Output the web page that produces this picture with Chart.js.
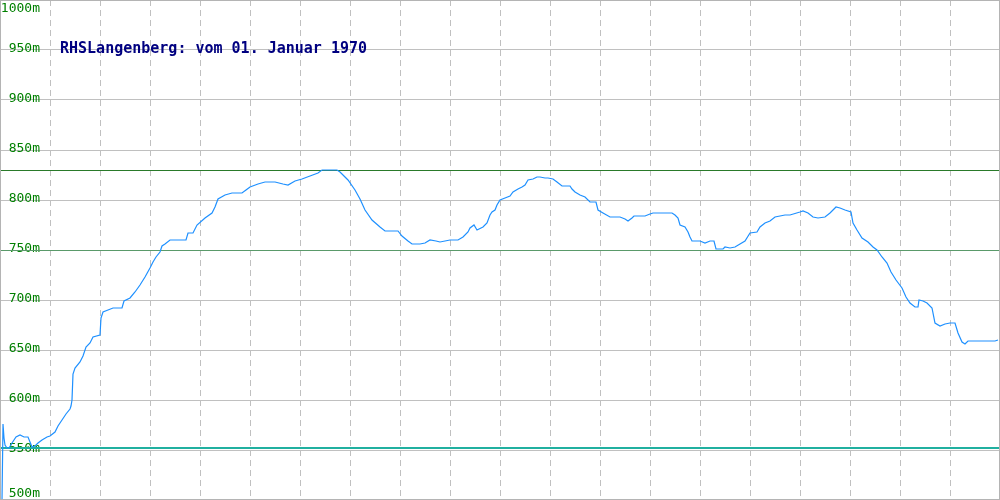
<!DOCTYPE html>
<html>
<head>
<meta charset="utf-8">
<script src="https://cdn.jsdelivr.net/npm/chart.js@4"></script>
<style>
  body { margin: 0; background: #fff; }
  #wrap { width: 1000px; height: 500px; }
</style>
</head>
<body>
<div id="wrap"><canvas id="profile" width="1000" height="500"></canvas></div>
<script>
const title = "RHSLangenberg: vom 01. Januar 1970";

// horizontal position along the track and elevation in metres
const dist = [2, 3, 4, 5, 7, 9, 12, 16, 20, 24, 28, 30, 32, 35, 38, 42, 47, 50, 55, 58,
  62, 66, 70, 71, 72, 73, 75, 80, 83, 86, 90, 93, 100, 101, 103, 108, 113, 122, 124, 130,
  135, 140, 145, 150, 153, 156, 160, 162, 165, 170, 186, 188, 193, 197, 205, 212, 215, 218, 225, 232,
  242, 246, 250, 258, 265, 275, 283, 288, 295, 302, 310, 318, 322, 337, 340, 348, 355, 360, 365, 372,
  380, 385, 398, 402, 408, 412, 420, 425, 430, 436, 440, 445, 450, 458, 463, 468, 470, 474, 477, 483,
  487, 490, 492, 495, 497, 500, 505, 510, 513, 518, 522, 525, 528, 533, 537, 540, 545, 548, 553, 557,
  562, 570, 572, 575, 580, 585, 590, 596, 598, 603, 610, 620, 625, 628, 632, 634, 645, 650, 653, 672,
  675, 678, 680, 685, 688, 690, 692, 700, 705, 710, 714, 716, 723, 725, 730, 735, 740, 745, 750, 757,
  760, 765, 770, 775, 785, 790, 800, 803, 808, 813, 818, 825, 830, 836, 840, 845, 851, 853, 857, 862,
  868, 873, 877, 882, 887, 891, 896, 902, 906, 910, 915, 918, 919, 923, 927, 932, 935, 940, 945, 950,
  955, 958, 962, 965, 968, 995, 998];
const elevation = [500, 576, 562, 555, 552, 552, 557, 563, 565, 563, 563, 558, 553, 554, 557, 560, 563, 564, 568, 574,
  580, 586, 591, 594, 600, 626, 632, 638, 644, 653, 657, 663, 665, 682, 688, 690, 692, 692, 699, 702,
  708, 715, 723, 732, 738, 743, 748, 754, 756, 760, 760, 767, 767, 775, 782, 787, 793, 801, 805, 807,
  807, 810, 813, 816, 818, 818, 816, 815, 819, 821, 824, 827, 830, 830, 828, 820, 810, 801, 790, 780,
  773, 769, 769, 764, 759, 756, 756, 757, 760, 759, 758, 759, 760, 760, 763, 768, 772, 775, 770, 773,
  777, 785, 788, 790, 795, 800, 802, 804, 808, 811, 813, 815, 820, 821, 823, 823, 822, 822, 821, 818,
  814, 814, 811, 808, 805, 803, 798, 798, 790, 787, 783, 783, 781, 779, 782, 784, 784, 786, 787, 787,
  785, 782, 775, 773, 768, 763, 759, 759, 757, 759, 759, 751, 751, 753, 752, 753, 756, 759, 767, 768,
  773, 777, 779, 783, 785, 785, 788, 789, 787, 783, 782, 783, 787, 793, 792, 790, 788, 777, 770, 762,
  758, 753, 750, 743, 737, 728, 720, 712, 703, 697, 693, 693, 700, 699, 697, 692, 677, 674, 676, 677,
  677, 667, 658, 656, 659, 659, 660];

// reference levels
const upperLevel = 829.5;
const middleLevel = 749.5;
const lowerLevel = 552;

const yTicks = [500, 550, 600, 650, 700, 750, 800, 850, 900, 950, 1000];

const profilePoints = dist.map((d, i) => ({ x: d, y: elevation[i] }));

function flatLine(level) {
    return [{ x: 0, y: level }, { x: 1000, y: level }];
}

// labels sit inside the plot, right aligned, like the original
const insideLabels = {
    id: "insideLabels",
    beforeDatasetsDraw(chart) {
        const ctx = chart.ctx;
        const y = chart.scales.y;
        ctx.save();
        ctx.font = "13px 'DejaVu Sans Mono'";
        ctx.fillStyle = "#008000";
        ctx.textAlign = "right";
        ctx.textBaseline = "middle";
        yTicks.forEach(v => {
            let py = y.getPixelForValue(v) - 1;
            py = Math.min(Math.max(py, 8.5), 493.5);
            ctx.fillText(v + "m", 40, py);
        });
        ctx.font = "bold 15px 'DejaVu Sans Mono'";
        ctx.fillStyle = "#000080";
        ctx.textAlign = "left";
        ctx.textBaseline = "alphabetic";
        ctx.fillText(title, 60, 53);
        ctx.restore();
    },
    afterDraw(chart) {
        const ctx = chart.ctx;
        ctx.save();
        ctx.strokeStyle = "#b4b4b4";
        ctx.lineWidth = 1;
        ctx.strokeRect(0.5, 0.5, 999, 499);
        ctx.restore();
    }
};

new Chart(document.getElementById("profile"), {
    type: "line",
    data: {
        datasets: [
            {
                data: profilePoints,
                borderColor: "#1e90ff",
                borderWidth: 1.2,
                pointRadius: 0,
                tension: 0
            },
            {
                data: flatLine(upperLevel),
                borderColor: "#2a7a2a",
                borderWidth: 1,
                pointRadius: 0
            },
            {
                data: flatLine(middleLevel),
                borderColor: "#5a9a6a",
                borderWidth: 1,
                pointRadius: 0
            },
            {
                data: flatLine(lowerLevel),
                borderColor: "#20b0a0",
                borderWidth: 2,
                pointRadius: 0
            }
        ]
    },
    options: {
        responsive: false,
        animation: false,
        layout: { padding: 0 },
        plugins: {
            legend: { display: false },
            tooltip: { enabled: false }
        },
        scales: {
            x: {
                type: "linear",
                min: 0,
                max: 1000,
                ticks: { display: false, stepSize: 50 },
                grid: { color: "#c0c0c0", lineWidth: 1, drawTicks: false },
                border: { display: false, dash: [6, 4] }
            },
            y: {
                min: 500,
                max: 1000,
                ticks: { display: false, stepSize: 50 },
                grid: { color: "#c0c0c0", lineWidth: 1, drawTicks: false },
                border: { display: false }
            }
        }
    },
    plugins: [insideLabels]
});
</script>
</body>
</html>
